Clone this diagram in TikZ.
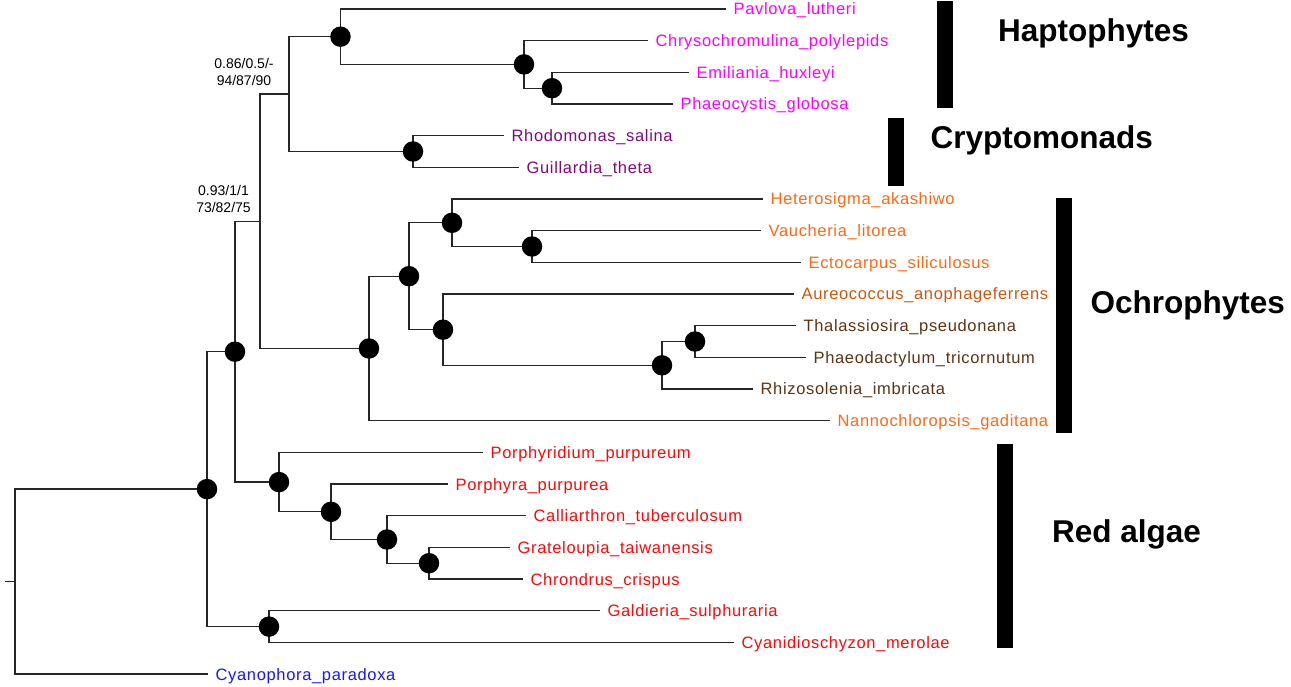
\documentclass[tikz,border=0pt]{standalone}
\usepackage{fontspec}
\setmainfont{Liberation Sans}
\newfontfamily\leaffont{Liberation Sans}[LetterSpace=4.0]
\definecolor{hapto}{RGB}{255,0,255}
\definecolor{crypto}{RGB}{128,10,128}
\definecolor{ochre}{RGB}{255,105,20}
\definecolor{aureo}{RGB}{200,88,15}
\definecolor{diatom}{RGB}{95,50,20}
\definecolor{redalg}{RGB}{250,10,10}
\definecolor{glauco}{RGB}{25,25,245}
\begin{document}
\begin{tikzpicture}[x=1pt, y=-1pt, line width=1.3pt, draw=black!85,
	leaf/.style = {anchor=west, inner xsep=7pt, inner ysep=0pt, text height=11.8pt, text depth=0pt, font=\leaffont\fontsize{16.5}{19}\selectfont},
	bnode/.style = {circle, fill=black, inner sep=0pt, minimum size=20.5pt},
	clade/.style = {anchor=base west, inner sep=0pt, font=\fontsize{31.5}{36}\selectfont\bfseries},
	supp/.style = {align=center, inner sep=0pt, font=\fontsize{14}{17}\selectfont}]
	\useasboundingbox (0,0) rectangle (1291,687);
	% leaves
	\node[leaf, text=hapto] (pav) at (726,9) {Pavlova\_lutheri};
	\node[leaf, text=hapto] (chr) at (648,40.7) {Chrysochromulina\_polylepids};
	\node[leaf, text=hapto] (emi) at (689,72.3) {Emiliania\_huxleyi};
	\node[leaf, text=hapto] (pha) at (673,104) {Phaeocystis\_globosa};
	\node[leaf, text=crypto] (rho) at (504,135.7) {Rhodomonas\_salina};
	\node[leaf, text=crypto] (gui) at (519,167.4) {Guillardia\_theta};
	\node[leaf, text=ochre] (het) at (763,199) {Heterosigma\_akashiwo};
	\node[leaf, text=ochre] (vau) at (761,230.7) {Vaucheria\_litorea};
	\node[leaf, text=ochre] (ect) at (801,262.4) {Ectocarpus\_siliculosus};
	\node[leaf, text=aureo] (aur) at (794,294) {Aureococcus\_anophageferrens};
	\node[leaf, text=diatom] (tha) at (796,325.7) {Thalassiosira\_pseudonana};
	\node[leaf, text=diatom] (phd) at (806,357.4) {Phaeodactylum\_tricornutum};
	\node[leaf, text=diatom] (rhi) at (753,389) {Rhizosolenia\_imbricata};
	\node[leaf, text=ochre] (nan) at (830,420.7) {Nannochloropsis\_gaditana};
	\node[leaf, text=redalg] (pdm) at (483,452.4) {Porphyridium\_purpureum};
	\node[leaf, text=redalg] (pra) at (448,484.1) {Porphyra\_purpurea};
	\node[leaf, text=redalg] (cal) at (526,515.7) {Calliarthron\_tuberculosum};
	\node[leaf, text=redalg] (gra) at (510,547.4) {Grateloupia\_taiwanensis};
	\node[leaf, text=redalg] (chd) at (523,579.1) {Chrondrus\_crispus};
	\node[leaf, text=redalg] (gal) at (600,610.7) {Galdieria\_sulphuraria};
	\node[leaf, text=redalg] (cya) at (734,642.4) {Cyanidioschyzon\_merolae};
	\node[leaf, text=glauco] (cyp) at (208,674.1) {Cyanophora\_paradoxa};
	% internal nodes
	\coordinate (stub) at (5,581.6);
	\coordinate (nRoot) at (15,581.6);
	\coordinate (nA) at (207,489.1);
	\coordinate (nB) at (235,351.7);
	\coordinate (nC) at (260,221.3);
	\coordinate (nD) at (289,94.1);
	\coordinate (nH) at (340.5,36.7);
	\coordinate (nH2) at (524,64.4);
	\coordinate (nH3) at (552,88.2);
	\coordinate (nCr) at (413,151.5);
	\coordinate (nO) at (369,348.5);
	\coordinate (nO1) at (409,276.2);
	\coordinate (nO2) at (452,222.8);
	\coordinate (nO3) at (443,329.7);
	\coordinate (nO4) at (532,246.5);
	\coordinate (nO5) at (662,365.3);
	\coordinate (nO6) at (695,341.5);
	\coordinate (nR) at (279,482.1);
	\coordinate (nR2) at (331,511.8);
	\coordinate (nR3) at (387,539.5);
	\coordinate (nR4) at (429,563.2);
	\coordinate (nG) at (269,626.6);
	% branches
	\draw (stub) -- (nRoot);
	\draw (nRoot) |- (nA); \draw (nRoot) |- (cyp.west);
	\draw (nA) |- (nB); \draw (nA) |- (nG);
	\draw (nB) |- (nC); \draw (nB) |- (nR);
	\draw (nC) |- (nD); \draw (nC) |- (nO);
	\draw (nD) |- (nH); \draw (nD) |- (nCr);
	\draw (nH) |- (pav.west); \draw (nH) |- (nH2);
	\draw (nH2) |- (chr.west); \draw (nH2) |- (nH3);
	\draw (nH3) |- (emi.west); \draw (nH3) |- (pha.west);
	\draw (nCr) |- (rho.west); \draw (nCr) |- (gui.west);
	\draw (nO) |- (nO1); \draw (nO) |- (nan.west);
	\draw (nO1) |- (nO2); \draw (nO1) |- (nO3);
	\draw (nO2) |- (het.west); \draw (nO2) |- (nO4);
	\draw (nO4) |- (vau.west); \draw (nO4) |- (ect.west);
	\draw (nO3) |- (aur.west); \draw (nO3) |- (nO5);
	\draw (nO5) |- (nO6); \draw (nO5) |- (rhi.west);
	\draw (nO6) |- (tha.west); \draw (nO6) |- (phd.west);
	\draw (nR) |- (pdm.west); \draw (nR) |- (nR2);
	\draw (nR2) |- (pra.west); \draw (nR2) |- (nR3);
	\draw (nR3) |- (cal.west); \draw (nR3) |- (nR4);
	\draw (nR4) |- (gra.west); \draw (nR4) |- (chd.west);
	\draw (nG) |- (gal.west); \draw (nG) |- (cya.west);
	% supported nodes
	\node[bnode] (dA) at (nA) {};
	\node[bnode] (dB) at (nB) {};
	\node[bnode] (dH) at (nH) {};
	\node[bnode] (dH2) at (nH2) {};
	\node[bnode] (dH3) at (nH3) {};
	\node[bnode] (dCr) at (nCr) {};
	\node[bnode] (dO) at (nO) {};
	\node[bnode] (dO1) at (nO1) {};
	\node[bnode] (dO2) at (nO2) {};
	\node[bnode] (dO3) at (nO3) {};
	\node[bnode] (dO4) at (nO4) {};
	\node[bnode] (dO5) at (nO5) {};
	\node[bnode] (dO6) at (nO6) {};
	\node[bnode] (dR) at (nR) {};
	\node[bnode] (dR2) at (nR2) {};
	\node[bnode] (dR3) at (nR3) {};
	\node[bnode] (dR4) at (nR4) {};
	\node[bnode] (dG) at (nG) {};
	\node[supp] (supD) at (244,71.5) {0.86/0.5/-\\94/87/90};
	\node[supp] (supC) at (223.5,198.5) {0.93/1/1\\73/82/75};
	% clades
	\fill (937,1) rectangle (953,108);
	\fill (888,118) rectangle (904,186);
	\fill (1056,198) rectangle (1072,433);
	\fill (997,444) rectangle (1013,648);
	\node[clade] (hap) at (997.5,41.7) {Haptophytes};
	\node[clade] (cry) at (930,148.3) {Cryptomonads};
	\node[clade] (och) at (1090,313.5) {Ochrophytes};
	\node[clade] (red) at (1051.5,542) {Red algae};
\end{tikzpicture}
\end{document}
